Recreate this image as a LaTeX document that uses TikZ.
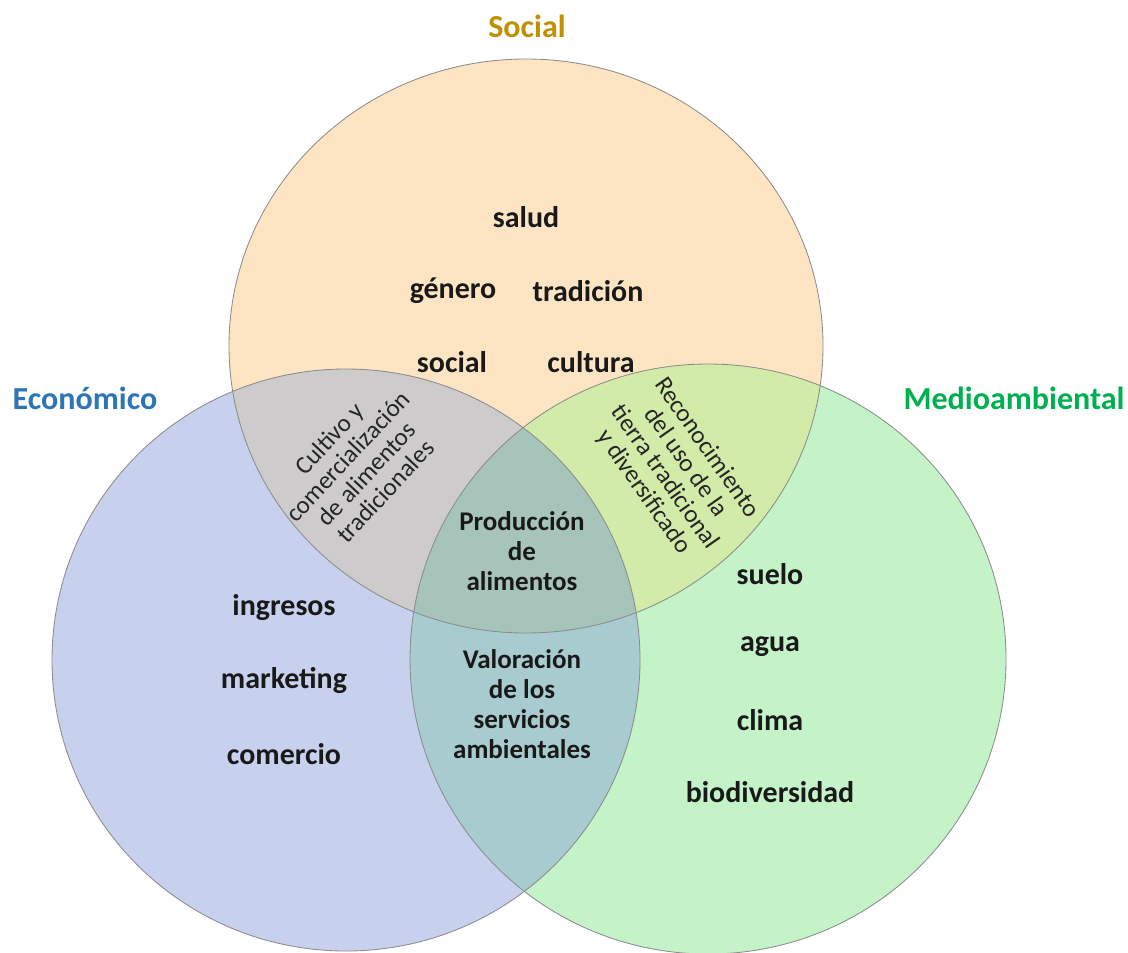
\documentclass[tikz,border=0pt]{standalone}
\usepackage{fontspec}
\setmainfont{Carlito}
\usepackage{tikz}
\usetikzlibrary{positioning}
\definecolor{socfill}{HTML}{FDE5C4}
\definecolor{ecofill}{HTML}{C7D1ED}
\definecolor{envfill}{HTML}{C3F3C7}
\definecolor{socecofill}{HTML}{CDCBCB}
\definecolor{socenvfill}{HTML}{D3EBA8}
\definecolor{ecoenvfill}{HTML}{A7CBCF}
\definecolor{allfill}{HTML}{A6C4BA}
\definecolor{socgold}{HTML}{BF9000}
\definecolor{ecoblue}{HTML}{2E75B6}
\definecolor{envgreen}{HTML}{00B050}
\tikzstyle{ring}=[draw=black!45, line width=0.6pt]
\tikzstyle{title}=[font=\fontsize{22.8}{26}\selectfont\bfseries]
\tikzstyle{word}=[font=\fontsize{21.3}{24}\selectfont\bfseries, text=black!90, inner sep=1pt]
\tikzstyle{mid}=[align=center, font=\fontsize{19.2}{21.3}\selectfont\bfseries, text=black!90]
\tikzstyle{slant}=[align=center, font=\fontsize{17.8}{18.3}\selectfont, text=black!85]
\newcommand{\socring}{(526,-346) ellipse [x radius=297, y radius=287]}
\newcommand{\ecoring}{(346,-660) ellipse [x radius=294, y radius=291]}
\newcommand{\envring}{(708,-659) ellipse [x radius=298, y radius=295]}

\begin{document}
\begin{tikzpicture}[x=0.025cm, y=0.025cm, node distance=1.82cm]
\useasboundingbox (0,0) rectangle (1128,-952);
%
  \fill[socfill] \socring;
  \fill[ecofill] \ecoring;
  \fill[envfill] \envring;
  \begin{scope}
    \clip \socring;
    \fill[socecofill] \ecoring;
    \fill[socenvfill] \envring;
  \end{scope}
  \begin{scope}
    \clip \ecoring;
    \fill[ecoenvfill] \envring;
    \clip \envring;
    \fill[allfill] \socring;
  \end{scope}
  \draw[ring] \socring;
  \draw[ring] \ecoring;
  \draw[ring] \envring;
%
  \node[title, text=socgold] (soc) at (527,-26) {Social};
  \node[title, text=ecoblue] (eco) at (85,-398) {Económico};
  \node[title, text=envgreen] (env) at (1014,-398) {Medioambiental};
%
  \node[word] (salud) at (526,-217) {salud};
  \node[word] (genero) at (453,-291) {género};
  \node[word] (tradicion) at (588,-291) {tradición};
  \node[word] (social) at (452,-362) {social};
  \node[word] (cultura) at (591,-362) {cultura};
%
  \node[word] (ingresos) at (284,-608) {ingresos};
  \node[word] (marketing) [below of=ingresos] {marketing};
  \node[word] (comercio) [below of=marketing] {comercio};
%
  \node[word] (suelo) at (770,-574) {suelo};
  \node[word] (agua) [below of=suelo] {agua};
  \node[word] (clima) [below of=agua] {clima};
  \node[word] (biodiv) [below of=clima] {biodiversidad};
%
  \node[slant, rotate=47] (cultivo) at (357,-465)
    {Cultivo y\\comercialización\\de alimentos\\tradicionales};
  \node[slant, rotate=-55] (reconoc) at (675,-470)
    {Reconocimiento\\del uso de la\\tierra tradicional\\y diversificado};
  \node[mid] (produccion) at (522,-551) {Producción\\de\\alimentos};
  \node[mid] (valoracion) at (522,-704) {Valoración\\de los\\servicios\\ambientales};
%
\end{tikzpicture}
\end{document}
